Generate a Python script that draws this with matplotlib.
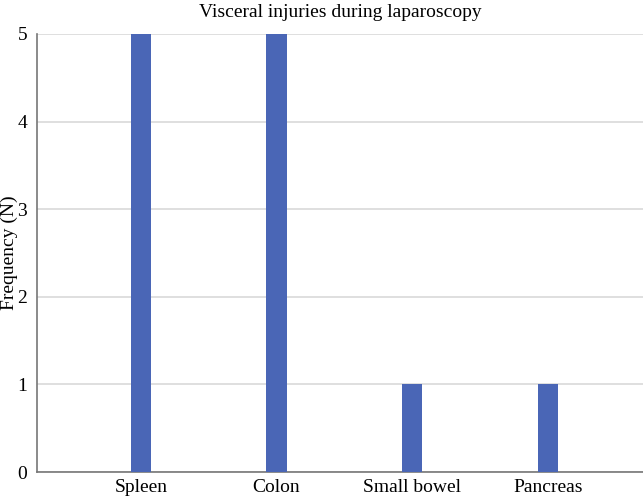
import matplotlib.pyplot as plt
import numpy as np

categories = ['Spleen', 'Colon', 'Small bowel', 'Pancreas']
frequency = [5, 5, 1, 1]

plt.rcParams['font.family'] = ['Liberation Serif', 'DejaVu Serif']

fig = plt.figure(figsize=(6.43, 4.98), dpi=100)
ax = fig.add_axes([37 / 643, 1 - 472 / 498, 1 - 37 / 643, (472 - 34) / 498])

x = np.arange(len(categories))
ax.bar(x, frequency, width=0.15, color='#4a66b6', zorder=3)

ax.set_xlim(-0.765, 3.70)
ax.set_ylim(0, 5)
ax.set_yticks(range(0, 6))
ax.set_xticks(x)
ax.set_xticklabels(categories)
ax.tick_params(axis='x', length=0, labelsize=14, pad=5)
ax.tick_params(axis='y', length=0, labelsize=14, pad=7)

ax.grid(axis='y', color='#d9d9d9', linewidth=1.2, zorder=0)
for s in ['top', 'right']:
    ax.spines[s].set_visible(False)
ax.spines['left'].set_color('#777777')
ax.spines['bottom'].set_color('#777777')
ax.spines['left'].set_linewidth(1.2)
ax.spines['bottom'].set_linewidth(1.2)

ax.set_ylabel('Frequency (N)', fontsize=14)
ax.yaxis.set_label_coords(-0.032, 0.5)
ax.set_title('Visceral injuries during laparoscopy', fontsize=14, pad=12)

fig.savefig('out.png', dpi=100)
